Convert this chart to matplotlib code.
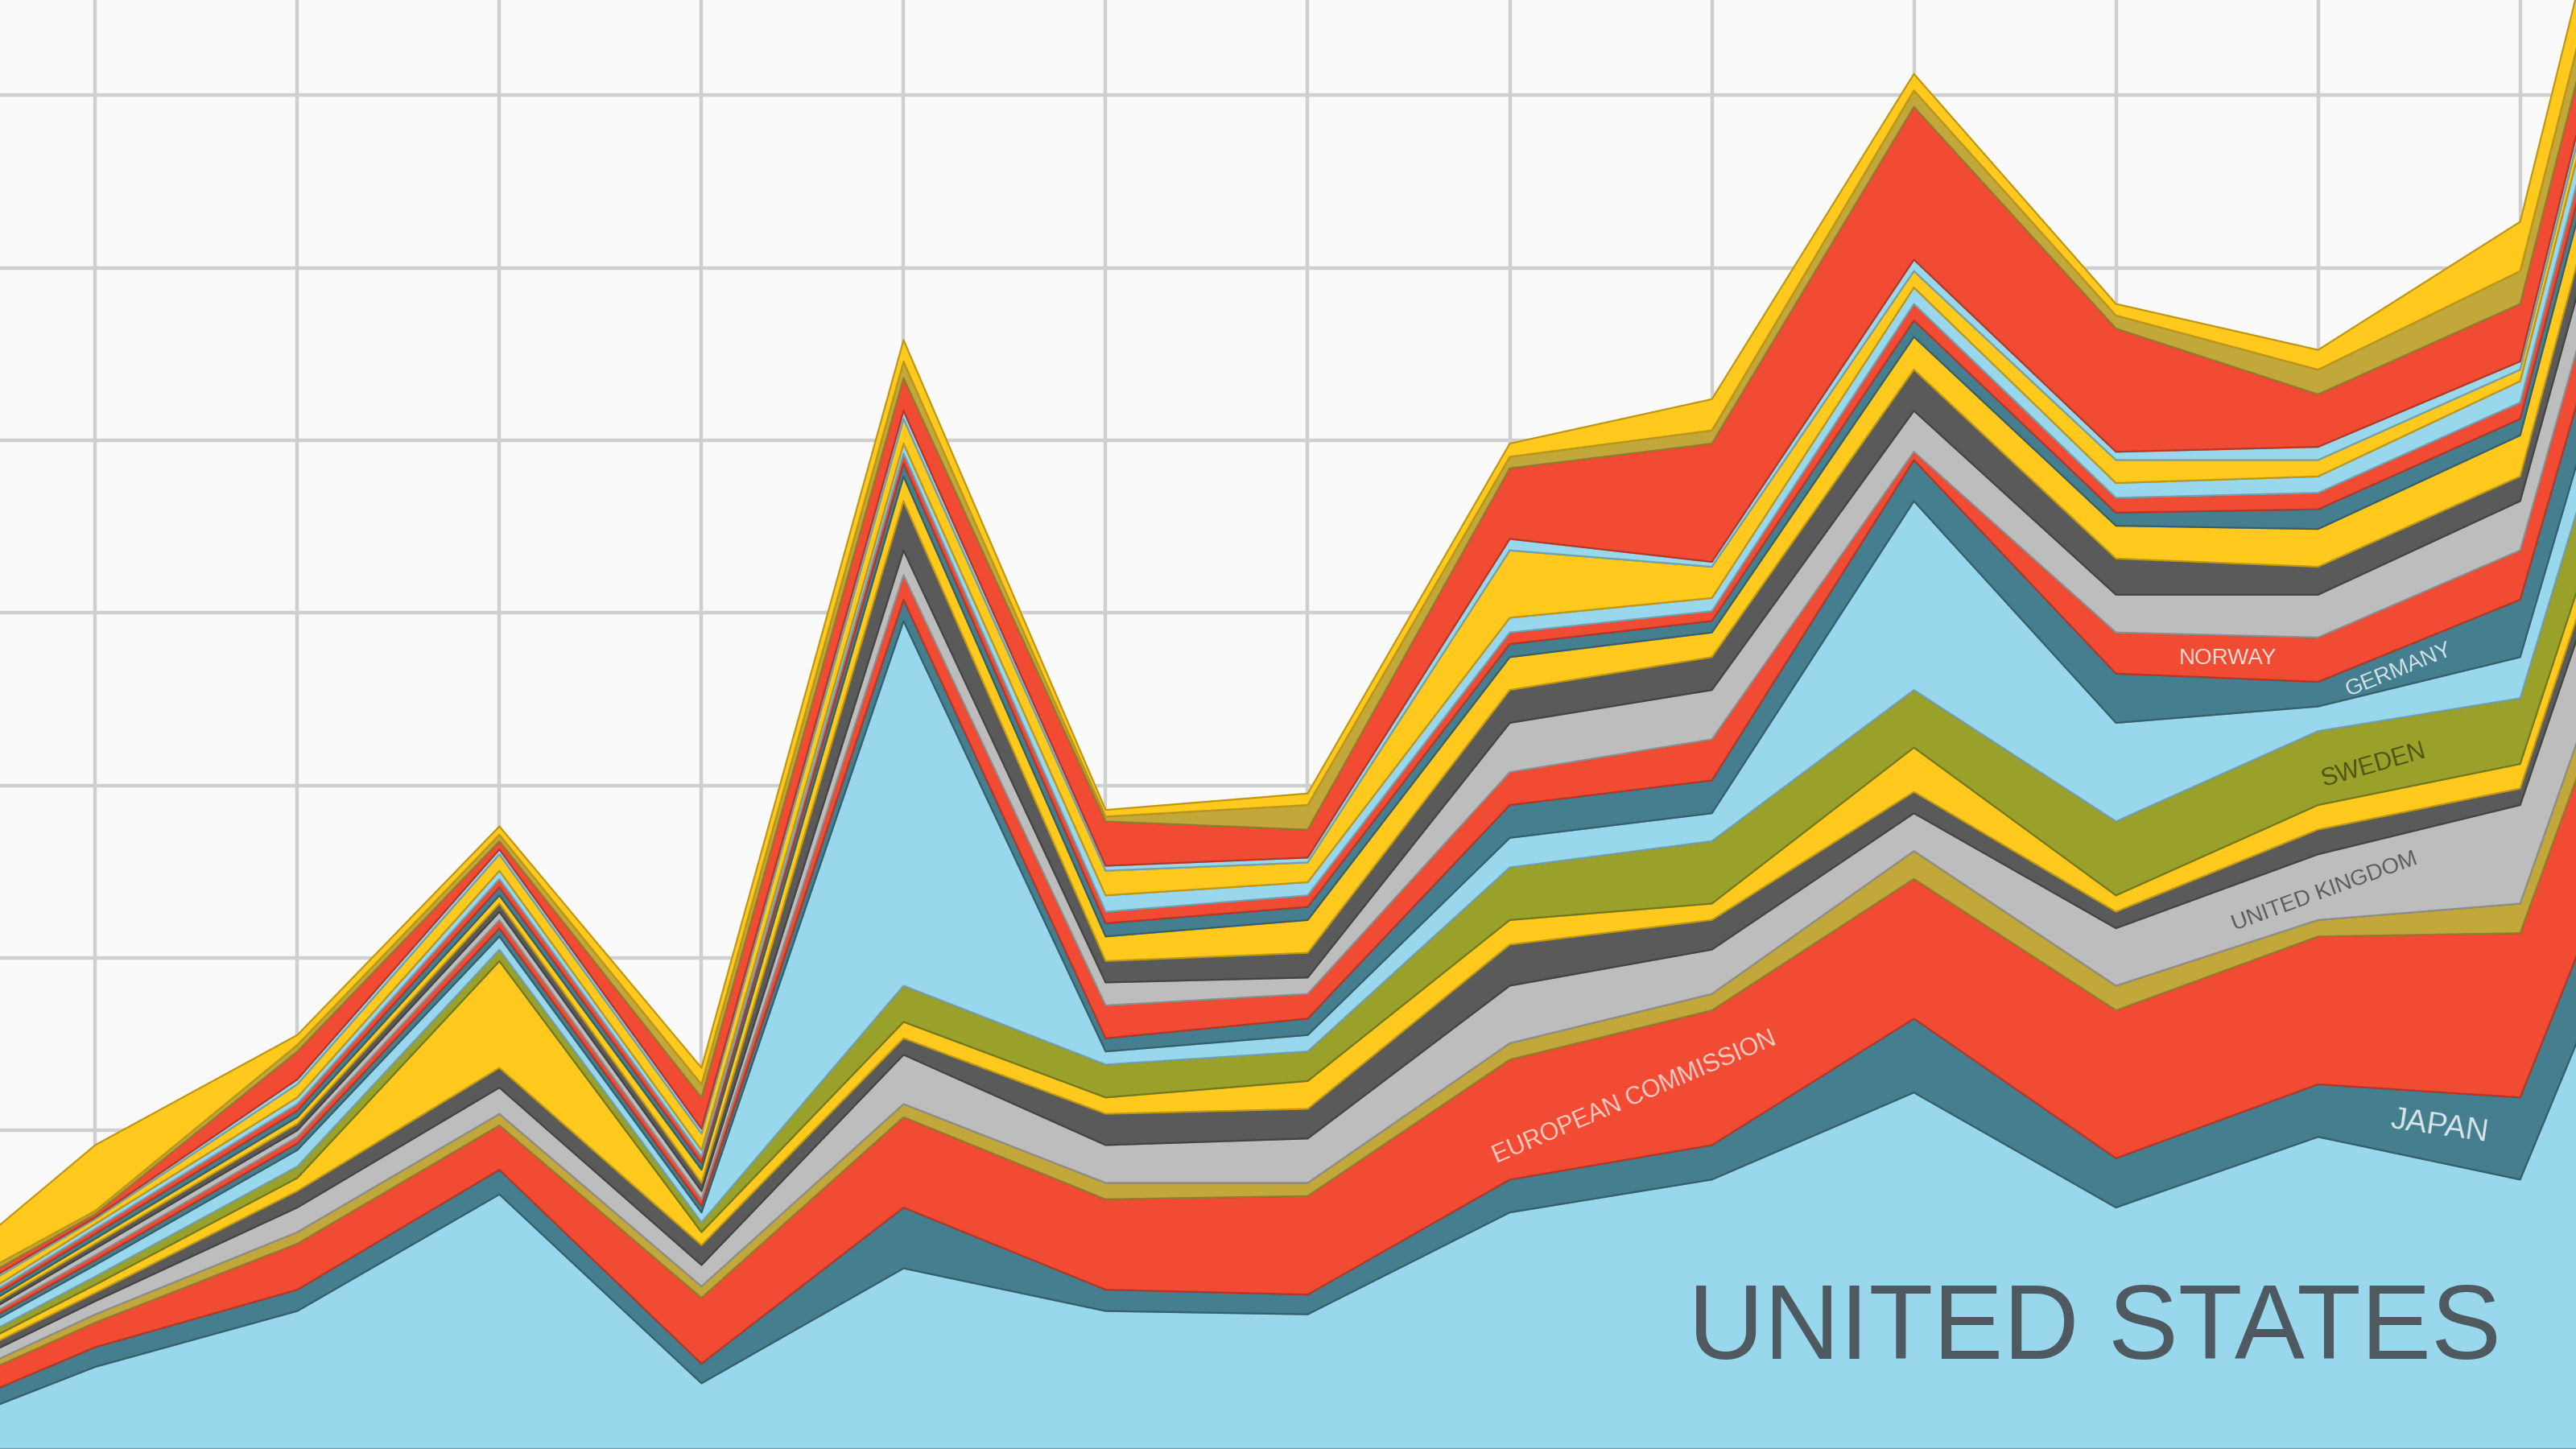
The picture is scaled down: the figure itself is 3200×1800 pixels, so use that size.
import matplotlib.pyplot as plt
import matplotlib.colors as mcolors
import numpy as np

plt.rcParams["font.family"] = "Liberation Sans"

# x index k sits at image pixel -65 + 123*k (reference is 1568 px wide)
points = np.arange(15)

# upper edge of each band, in reference pixel rows (top of image = 0), bottom to top
tops = {
    "united_states": [880, 832, 798, 727, 842, 772, 798, 800, 738, 718, 665, 735, 692, 718, 420],
    "japan": [872, 820, 785, 712, 830, 735, 785, 788, 718, 697, 620, 705, 660, 668, 360],
    "european_commission": [860, 805, 757, 685, 790, 680, 730, 728, 645, 615, 535, 615, 570, 568, 230],
    "gold": [857, 800, 750, 678, 783, 672, 720, 720, 635, 605, 518, 600, 560, 550, 200],
    "united_kingdom": [852, 792, 735, 662, 770, 642, 697, 693, 600, 578, 495, 565, 520, 490, 130],
    "dark": [848, 787, 725, 650, 758, 632, 678, 675, 575, 560, 482, 555, 505, 480, 110],
    "yellow": [845, 782, 717, 585, 750, 622, 668, 658, 560, 550, 455, 545, 490, 465, 90],
    "sweden": [842, 777, 710, 578, 744, 600, 648, 640, 528, 512, 420, 500, 445, 425, 20],
    "lightblue": [838, 770, 700, 570, 738, 378, 640, 630, 510, 495, 305, 440, 430, 400, -20],
    "germany": [836, 767, 696, 565, 734, 365, 632, 620, 490, 475, 280, 410, 415, 365, -60],
    "norway": [834, 764, 692, 560, 730, 350, 612, 605, 470, 450, 275, 385, 388, 335, -100],
    "grey2": [832, 760, 688, 555, 725, 335, 598, 595, 440, 420, 250, 362, 362, 305, -140],
    "dark2": [830, 757, 684, 550, 720, 305, 585, 580, 420, 400, 225, 340, 345, 290, -170],
    "yellow2": [828, 754, 680, 545, 712, 290, 570, 560, 400, 385, 205, 320, 322, 265, -200],
    "teal2": [826, 751, 676, 540, 708, 282, 562, 552, 392, 378, 195, 312, 310, 255, -215],
    "red2": [824, 748, 672, 535, 704, 276, 555, 545, 385, 372, 185, 303, 300, 245, -230],
    "lightblue2": [822, 745, 668, 530, 700, 270, 545, 537, 376, 364, 175, 294, 290, 232, -250],
    "yellow3": [815, 742, 660, 520, 690, 255, 530, 525, 335, 345, 165, 280, 280, 225, -265],
    "lightblue3": [813, 741, 657, 517, 687, 250, 527, 522, 328, 342, 158, 275, 272, 220, -275],
    "red3": [808, 739, 640, 512, 668, 230, 500, 505, 285, 270, 65, 200, 240, 185, -300],
    "gold2": [804, 737, 636, 508, 660, 220, 497, 490, 278, 262, 55, 192, 225, 165, -320],
    "yellow4": [800, 697, 630, 503, 650, 207, 493, 483, 270, 243, 45, 185, 213, 135, -360],
}

LB, TEAL, RED, GOLD = "#98D7EC", "#457F8F", "#F24B33", "#C2A83A"
GREY, DARK, YEL, OLIVE = "#BDBDBD", "#5A5A5A", "#FFC91E", "#9AA12A"
colors = [LB, TEAL, RED, GOLD, GREY, DARK, YEL, OLIVE, LB, TEAL, RED, GREY, DARK,
          YEL, TEAL, RED, LB, YEL, LB, RED, GOLD, YEL]

H = 882
edges = np.array([[H - v for v in t] for t in tops.values()], dtype=float)
bands = np.diff(np.vstack([np.zeros(len(points)), edges]), axis=0)

fig = plt.figure(figsize=(16, 9), dpi=200)
ax = fig.add_axes([0, 0, 1, 1])
ax.set_facecolor("#FAFAFA")
fig.patch.set_facecolor("#FAFAFA")

polys = ax.stackplot(points, bands, colors=colors, linewidth=0.8, zorder=2)
for p, c in zip(polys, colors):
    p.set_edgecolor(tuple(0.75 * np.array(mcolors.to_rgb(c))))

ax.set_xlim(65 / 123, (1568 + 65) / 123)
ax.set_ylim(0, H)
ax.set_xticks(np.arange(1, 14))
ax.set_yticks(np.arange(89, H, 105))
ax.grid(True, color="#CFCFCF", linewidth=1.6, zorder=0)
ax.set_axisbelow(True)
ax.tick_params(length=0, labelbottom=False, labelleft=False)
for s in ax.spines.values():
    s.set_visible(False)


def px(x, y):
    return ((x + 65) / 123, H - y)


labels = [
    ("UNITED STATES", 1275, 810, 0, 47, "#4E5A60"),
    ("JAPAN", 1485, 686, -8, 14, "#D9E6EA"),
    ("EUROPEAN COMMISSION", 995, 668, 23, 11, "#FBD0C8"),
    ("UNITED KINGDOM", 1415, 543, 20, 10, "#5A5A5A"),
    ("SWEDEN", 1445, 466, 16, 11, "#4F5316"),
    ("GERMANY", 1460, 408, 22, 10, "#D6E6EA"),
    ("NORWAY", 1356, 401, 0, 10, "#FFDCD4"),
]
for text, x, y, rot, size, col in labels:
    ax.text(*px(x, y), text, rotation=rot, fontsize=size, color=col,
            ha="center", va="center", zorder=5, rotation_mode="anchor")

fig.savefig("out.png", dpi=200, facecolor=fig.get_facecolor())
